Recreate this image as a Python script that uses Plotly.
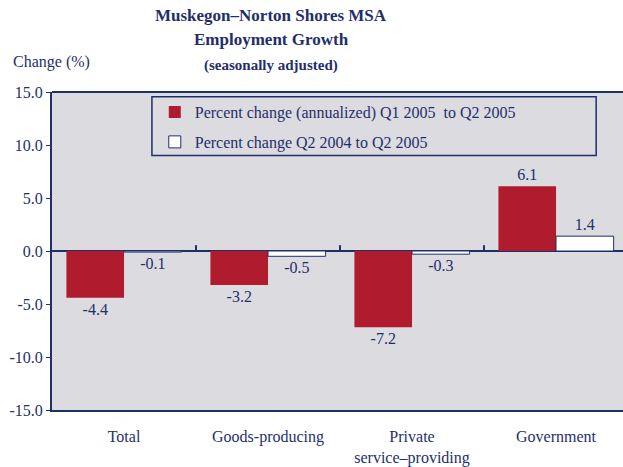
import plotly.graph_objects as go

categories = ["Total", "Goods-producing", "Private<br>service–providing", "Government"]
annualized = [-4.4, -3.2, -7.2, 6.1]
yearly = [-0.1, -0.5, -0.3, 1.4]
y_ticks = [15, 10, 5, 0, -5, -10, -15]

navy = "#1F2F6B"
red = "#B01C2E"
bg = "#DCDBE0"
serif = "Liberation Serif, Times New Roman, serif"

fig = go.Figure()
fig.add_trace(go.Bar(
    x=categories, y=annualized, name="Percent change (annualized) Q1 2005  to Q2 2005",
    legendgroup="a",
    marker=dict(color=red, line=dict(width=0)),
    text=[f"{v:.1f}" for v in annualized], textposition="outside",
    textfont=dict(color=navy, size=16, family=serif), cliponaxis=False,
))
fig.add_trace(go.Bar(
    x=categories, y=yearly, name="Percent change Q2 2004 to Q2 2005",
    legendgroup="b",
    marker=dict(color="white", line=dict(color=navy, width=1)),
    text=[f"{v:.1f}" for v in yearly], textposition="outside",
    textfont=dict(color=navy, size=16, family=serif), cliponaxis=False,
))

fig.update_layout(
    width=623, height=467,
    margin=dict(l=52, r=0, t=92, b=57),
    paper_bgcolor="white", plot_bgcolor=bg,
    font=dict(family=serif, color=navy, size=16),
    barmode="group", bargap=0.2, bargroupgap=0,
    showlegend=True,
    legend=dict(x=0.18, y=0.99, xanchor="left", yanchor="top",
                bgcolor="rgba(0,0,0,0)", borderwidth=0, tracegroupgap=6,
                font=dict(size=16, family=serif, color=navy)),
)
fig.update_yaxes(
    range=[-15, 15], tickvals=y_ticks, ticktext=[f"{v:.1f}" for v in y_ticks],
    showgrid=False, zeroline=True, zerolinecolor=navy, zerolinewidth=2,
    showline=True, linecolor=navy, linewidth=2, mirror=False,
    ticks="outside", ticklen=4, tickcolor=navy, tickfont=dict(size=16),
    automargin=False,
)
fig.update_xaxes(
    range=[-0.5, 3.465], showgrid=False, showline=True, linecolor=navy, linewidth=2,
    ticks="", ticklabelstandoff=11, tickfont=dict(size=16), automargin=False,
)

# top border of plot and legend box
fig.add_shape(type="line", xref="paper", yref="paper", x0=0, x1=1, y0=1, y1=1,
              line=dict(color=navy, width=2))
fig.add_shape(type="rect", xref="paper", yref="paper", x0=0.175, x1=0.953, y0=0.8, y1=0.985,
              line=dict(color=navy, width=1.5))
# category separator ticks on the zero line
for b in [0.5, 1.5, 2.5]:
    fig.add_shape(type="line", xref="x", yref="y", x0=b, x1=b, y0=0, y1=0.55,
                  line=dict(color=navy, width=2))

fig.add_annotation(text="<b>Muskegon–Norton Shores MSA</b>", xref="paper", yref="paper",
                   x=0.384, y=1.239, xanchor="center", yanchor="middle", showarrow=False,
                   font=dict(size=17, family=serif, color=navy))
fig.add_annotation(text="<b>Employment Growth</b>", xref="paper", yref="paper",
                   x=0.384, y=1.164, xanchor="center", yanchor="middle", showarrow=False,
                   font=dict(size=17, family=serif, color=navy))
fig.add_annotation(text="<b>(seasonally adjusted)</b>", xref="paper", yref="paper",
                   x=0.384, y=1.082, xanchor="center", yanchor="middle", showarrow=False,
                   font=dict(size=15, family=serif, color=navy))
fig.add_annotation(text="Change (%)", xref="paper", yref="paper",
                   x=-0.072, y=1.094, xanchor="left", yanchor="middle", showarrow=False,
                   font=dict(size=16, family=serif, color=navy))

fig.write_html("out.html", config={"displayModeBar": False},
               post_script="document.body.style.margin='0';")
